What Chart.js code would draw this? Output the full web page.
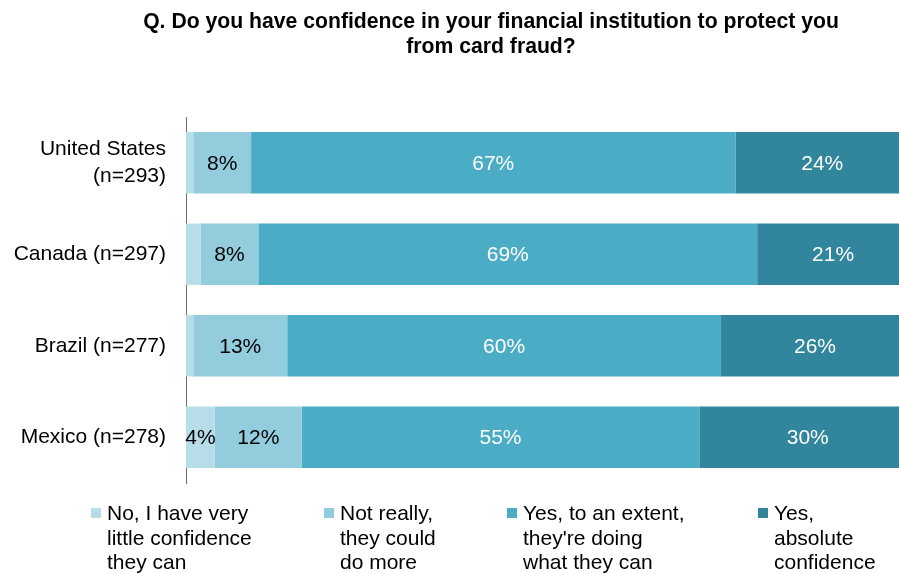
<!DOCTYPE html>
<html>
<head>
<meta charset="utf-8">
<script src="https://cdn.jsdelivr.net/npm/chart.js@4/dist/chart.umd.min.js"></script>
<style>
  html, body { margin: 0; padding: 0; background: #fff; overflow: hidden; width: 899px; height: 573px; }
  #wrap { position: relative; width: 899px; height: 573px; overflow: hidden; }
  #chart { position: absolute; left: 0; top: 0; }
  #title {
    position: absolute; left: 91px; width: 800px; top: 8px;
    text-align: center; font: bold 21.2px "Liberation Sans", Arial, sans-serif;
    line-height: 25px; color: #000;
  }
  .leg { position: absolute; top: 501px; font: 21px "Liberation Sans", Arial, sans-serif; line-height: 24.5px; color: #000; }
  .leg .sw { position: absolute; left: 0; top: 7px; width: 10px; height: 10px; }
  .leg .tx { position: absolute; left: 16px; top: 0; white-space: nowrap; }
</style>
</head>
<body>
<div id="wrap">
  <canvas id="chart" width="985" height="573"></canvas>
  <div id="title">Q. Do you have confidence in your financial institution to protect you<br>from card fraud?</div>
  <div id="legend"></div>
</div>
<script>
// Survey answers, share of respondents (%) per country
const categories = [
  ["United States", "(n=293)"],
  "Canada (n=297)",
  "Brazil (n=277)",
  "Mexico (n=278)"
];
const seriesNames = [
  ["No, I have very", "little confidence", "they can"],
  ["Not really,", "they could", "do more"],
  ["Yes, to an extent,", "they're doing", "what they can"],
  ["Yes,", "absolute", "confidence"]
];
const noLittle   = [1, 2, 1, 4];
const notReally  = [8, 8, 13, 12];
const yesExtent  = [67, 69, 60, 55];
const yesAbsolute = [24, 21, 26, 30];

const colors = ["#B7DEE8", "#93CDDD", "#4BACC6", "#31859C"];
const labelColors = ["#000", "#000", "#fff", "#fff"];
const legendX = [91, 324, 507, 758];

const seriesValues = [noLittle, notReally, yesExtent, yesAbsolute];
const FONT = "Liberation Sans, Arial, sans-serif";

// Percentage labels in the middle of each segment (tiny shares are left unlabelled)
const segmentLabels = {
  id: "segmentLabels",
  afterDatasetsDraw(chart) {
    const ctx = chart.ctx;
    ctx.save();
    ctx.font = "21px " + FONT;
    ctx.textAlign = "center";
    ctx.textBaseline = "middle";
    chart.data.datasets.forEach((ds, di) => {
      const meta = chart.getDatasetMeta(di);
      meta.data.forEach((bar, i) => {
        const v = ds.data[i];
        if (v < 3) return;
        const p = bar.getProps(["x", "y", "base"], true);
        ctx.fillStyle = labelColors[di];
        ctx.fillText(v + "%", (p.x + p.base) / 2, p.y + 1);
      });
    });
    ctx.restore();
  }
};

new Chart(document.getElementById("chart"), {
  type: "bar",
  data: {
    labels: categories,
    datasets: seriesValues.map((vals, i) => ({
      label: seriesNames[i].join(" "),
      data: vals,
      backgroundColor: colors[i],
      borderWidth: 0,
      categoryPercentage: 1,
      barPercentage: 0.67
    }))
  },
  options: {
    indexAxis: "y",
    responsive: false,
    animation: false,
    layout: { padding: { left: 0, right: 76, top: 117, bottom: 90 } },
    plugins: { legend: { display: false }, tooltip: { enabled: false }, title: { display: false } },
    scales: {
      x: { stacked: true, min: 0, max: 100, display: false },
      y: {
        stacked: true,
        grid: { display: false, drawTicks: false },
        border: { display: true, color: "#6e6e6e", width: 1 },
        ticks: { color: "#000", padding: 20, font: { family: FONT, size: 21, lineHeight: 1.25 } },
        afterFit(scale) { scale.width = 186; }
      }
    }
  },
  plugins: [segmentLabels]
});

// Legend with wrapped series names
const legend = document.getElementById("legend");
seriesNames.forEach((lines, i) => {
  const item = document.createElement("div");
  item.className = "leg";
  item.style.left = legendX[i] + "px";
  item.innerHTML = '<div class="sw" style="background:' + colors[i] + '"></div><div class="tx">' + lines.join("<br>") + "</div>";
  legend.appendChild(item);
});
</script>
</body>
</html>
